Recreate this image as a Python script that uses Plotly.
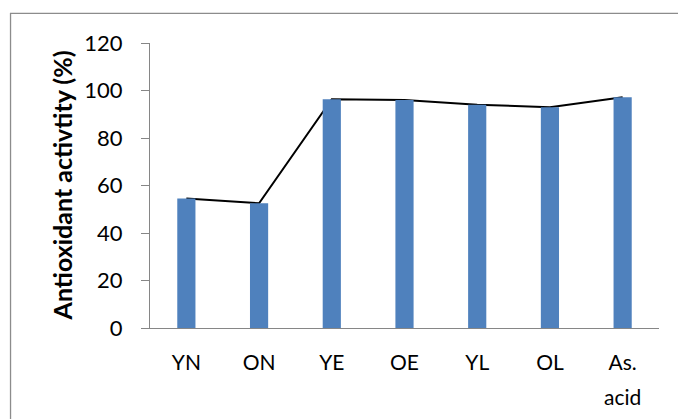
import plotly.graph_objects as go

categories = ["YN", "ON", "YE", "OE", "YL", "OL", "As. acid"]
activity = [54.5, 52.5, 96.3, 96.0, 94.0, 93.0, 97.2]
tick_labels = ["YN", "ON", "YE", "OE", "YL", "OL", "As."]
y_ticks = [0, 20, 40, 60, 80, 100, 120]

FONT = "Lato"
fig = go.Figure()

# line on base axes (drawn underneath the bars)
fig.add_trace(go.Scatter(x=categories, y=activity, mode="lines",
                         line=dict(color="black", width=2),
                         xaxis="x", yaxis="y", showlegend=False, hoverinfo="skip"))
# bars on overlay axes (drawn on top)
fig.add_trace(go.Bar(x=categories, y=activity, width=0.25,
                     marker=dict(color="#4F81BD", line=dict(width=0)),
                     xaxis="x2", yaxis="y2", showlegend=False))

fig.update_layout(
    width=678, height=419,
    margin=dict(l=150, r=19, t=43, b=91),
    paper_bgcolor="white", plot_bgcolor="rgba(0,0,0,0)",
    font=dict(family=FONT, size=21, color="black"),
    xaxis=dict(type="category", categoryorder="array", categoryarray=categories,
               range=[-0.5, 6.5], tickmode="array", tickvals=categories, ticktext=tick_labels,
               showline=True, linecolor="#868686", linewidth=1.3, ticks="",
               showgrid=False, zeroline=False, ticklabelstandoff=16,
               tickfont=dict(family=FONT, size=21)),
    yaxis=dict(range=[0, 120], tickvals=y_ticks, showline=True, linecolor="#868686",
               linewidth=1.3, ticks="outside", ticklen=8, tickcolor="#868686", tickwidth=1.3,
               showgrid=False, zeroline=False, ticklabelstandoff=14,
               tickfont=dict(family=FONT, size=22)),
    xaxis2=dict(type="category", categoryorder="array", categoryarray=categories,
                range=[-0.5, 6.5], overlaying="x", visible=False),
    yaxis2=dict(range=[0, 120], overlaying="y", visible=False),
    annotations=[
        dict(text="<b>Antioxidant activtity (%)</b>", textangle=-90,
             xref="paper", yref="paper", x=-0.173, y=0.5, showarrow=False,
             xanchor="center", yanchor="middle", font=dict(family=FONT, size=25)),
        dict(text="acid", xref="x", yref="paper", x="As. acid", y=-0.242,
             showarrow=False, xanchor="center", yanchor="middle",
             font=dict(family=FONT, size=21)),
    ],
    shapes=[dict(type="rect", xref="paper", yref="paper", x0=-0.274, x1=1.08,
                 y0=-0.4, y1=1.1036, line=dict(color="#8c8c8c", width=1.3),
                 fillcolor="rgba(0,0,0,0)", layer="below")],
)

fig.write_html("out.html", config={"displayModeBar": False},
               post_script="document.body.style.margin='0';document.body.style.overflow='hidden';")
